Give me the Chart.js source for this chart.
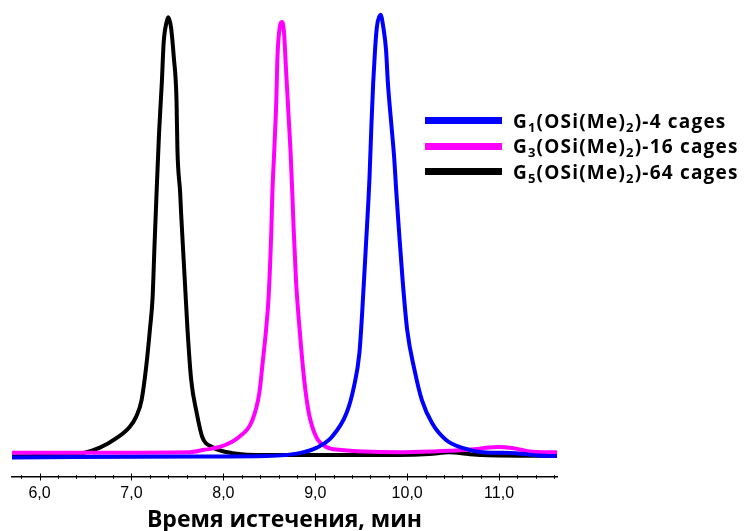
<!DOCTYPE html>
<html>
<head>
<meta charset="utf-8">
<script src="https://cdn.jsdelivr.net/npm/chart.js@4/dist/chart.umd.min.js"></script>
<style>
  html, body { margin: 0; padding: 0; background: #fff; }
  #wrap { position: relative; width: 745px; height: 531px; }
  #legend { position: absolute; left: 425px; top: 108px; font-family: "Open Sans", Lato, sans-serif; font-weight: bold; font-size: 19px; letter-spacing: 1.2px; color: #000; }
  #legend .row { display: flex; align-items: center; height: 25.5px; white-space: nowrap; }
  #legend .swatch { width: 77px; height: 7px; margin-right: 11px; }
  #legend sub { font-size: 13px; vertical-align: -4px; line-height: 0; }
</style>
</head>
<body>
<div id="wrap">
  <canvas id="chart" width="745" height="531"></canvas>
  <div id="legend"></div>
</div>
<script>
// Series (retention time in min, detector signal in relative units)
const seriesLabels = ["G_1(OSi(Me)_2)-4 cages", "G_3(OSi(Me)_2)-16 cages", "G_5(OSi(Me)_2)-64 cages"];
const seriesColors = ["#0000ff", "#ff00ff", "#000000"];

const g1Times = [5.70, 7.74, 8.47, 8.83, 9.01, 9.18, 9.34, 9.42, 9.48, 9.51, 9.55, 9.59, 9.61, 9.63, 9.65, 9.67, 9.71,
  9.74, 9.77, 9.79, 9.83, 9.86, 9.88, 9.91, 9.95, 10.00, 10.08, 10.16, 10.27, 10.42, 10.60, 10.82, 11.18, 11.43, 11.64];
const g1Values = [4.1, 4.3, 4.4, 5.0, 6.1, 8.4, 13.4, 18.9, 26.0, 34.4, 48.2, 62.8, 73.4, 82.6, 89.5, 94.3, 96.9,
  94.3, 89.5, 82.6, 73.4, 66.5, 60.2, 51.8, 41.3, 30.8, 22.4, 16.1, 11.3, 7.8, 6.1, 5.2, 5.0, 4.5, 4.4];

const g3Times = [5.70, 6.65, 7.63, 7.79, 7.96, 8.17, 8.315, 8.391, 8.427, 8.464, 8.492, 8.522, 8.533, 8.554, 8.576, 8.587, 8.609, 8.638,
  8.66, 8.68, 8.71, 8.73, 8.75, 8.765, 8.79, 8.83, 8.88, 8.93, 9.01, 9.12, 9.26, 9.91, 10.46, 10.73, 10.89, 11.00, 11.14, 11.36, 11.64];
const g3Values = [5.1, 5.1, 5.2, 5.7, 6.3, 8.4, 11.9, 17.6, 23.9, 30.8, 37.7, 51.8, 59.5, 68.6, 79.0, 87.4, 93.7, 95.4,
  93.1, 86.0, 75.5, 68.6, 59.5, 51.8, 41.3, 30.8, 20.3, 13.4, 8.4, 6.3, 5.7, 5.2, 5.5, 5.8, 6.2, 6.3, 6.1, 5.3, 5.2];

const g5Times = [5.70, 6.00, 6.29, 6.47, 6.65, 6.84, 6.98, 7.05, 7.11, 7.16, 7.20, 7.23, 7.25, 7.27, 7.30, 7.33, 7.35, 7.38, 7.40,
  7.43, 7.46, 7.49, 7.50, 7.53, 7.54, 7.58, 7.61, 7.65, 7.71, 7.77, 7.88, 8.10, 8.47, 9.18, 9.91, 10.24, 10.46, 10.67, 10.82, 11.64];
const g5Values = [4.3, 4.4, 4.6, 5.0, 6.1, 8.2, 10.5, 12.6, 16.1, 23.1, 30.8, 37.7, 48.2, 58.1, 72.1, 82.6, 91.0, 95.2, 96.4,
  94.3, 88.1, 79.0, 68.6, 59.5, 55.3, 41.3, 30.8, 20.3, 13.4, 8.4, 6.3, 5.0, 4.6, 4.6, 4.6, 4.8, 5.2, 4.8, 4.6, 4.4];

const seriesTimes = [g1Times, g3Times, g5Times];
const seriesValues = [g1Values, g3Values, g5Values];

const xMin = 5.7;
const xMax = 11.63;
const minorStep = 0.2;
const xTitle = "Время истечения, мин";

// tick marks crossing the axis line (major every 1 min, minor every 0.2 min)
const crossTicks = {
  id: "crossTicks",
  afterDraw(chart) {
    const scale = chart.scales.x;
    const ctx = chart.ctx;
    const y = chart.chartArea.bottom;
    ctx.save();
    ctx.strokeStyle = "#000";
    ctx.lineWidth = 1;
    const n = Math.round((xMax - xMin) / minorStep) + 1;
    for (let i = 0; i <= n; i++) {
      const v = Math.round((Math.ceil(xMin / minorStep) + i) * minorStep * 10) / 10;
      if (v > xMax) break;
      const px = Math.round(scale.getPixelForValue(v)) + 0.5;
      const major = Math.abs(v - Math.round(v)) < 1e-6;
      const h = major ? 3.5 : 1.8;
      ctx.beginPath();
      ctx.moveTo(px, y - h);
      ctx.lineTo(px, y + h);
      ctx.stroke();
    }
    ctx.restore();
  },
};

const ctx = document.getElementById("chart").getContext("2d");
new Chart(ctx, {
  type: "line",
  data: {
    datasets: seriesLabels.map((label, i) => ({
      label: label.replace(/_/g, ""),
      data: seriesTimes[i].map((t, j) => ({ x: t, y: seriesValues[i][j] })),
      borderColor: seriesColors[i],
      backgroundColor: seriesColors[i],
      borderWidth: 4,
      pointRadius: 0,
      cubicInterpolationMode: "monotone",
      fill: false,
    })),
  },
  options: {
    responsive: false,
    animation: false,
    layout: { padding: { left: 12, right: 188, top: 0, bottom: 0 } },
    plugins: {
      legend: { display: false },
      tooltip: { enabled: false },
    },
    scales: {
      x: {
        type: "linear",
        min: xMin,
        max: xMax,
        afterFit: (scale) => { scale.height = 54; },
        grid: { display: false, drawTicks: false },
        border: { display: true, color: "#000", width: 1.5 },
        ticks: {
          stepSize: 1,
          includeBounds: false,
          padding: 7,
          maxRotation: 0,
          color: "#000",
          font: { family: "'Liberation Sans Narrow', 'Liberation Sans', Arial", size: 16 },
          callback: (v) => v.toFixed(1).replace(".", ","),
        },
        title: {
          display: true,
          text: xTitle,
          color: "#000",
          font: { family: "'Open Sans', Lato, sans-serif", size: 23, weight: "bold", lineHeight: 1 },
          padding: { top: 0, bottom: -1 },
        },
      },
      y: {
        display: false,
        min: 0,
        max: 100,
      },
    },
  },
  plugins: [crossTicks],
});

// HTML legend with subscripts
const legendEl = document.getElementById("legend");
seriesLabels.forEach((label, i) => {
  const row = document.createElement("div");
  row.className = "row";
  const sw = document.createElement("span");
  sw.className = "swatch";
  sw.style.background = seriesColors[i];
  const txt = document.createElement("span");
  txt.innerHTML = label.replace(/_(\d)/g, "<sub>$1</sub>");
  row.appendChild(sw);
  row.appendChild(txt);
  legendEl.appendChild(row);
});
</script>
</body>
</html>
